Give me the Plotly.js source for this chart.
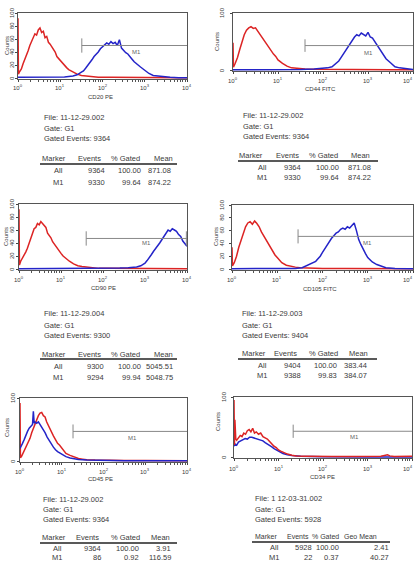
<!DOCTYPE html>
<html><head><meta charset="utf-8">
<script src="https://cdn.plot.ly/plotly-3.0.1.min.js"></script>
<style>html,body{margin:0;padding:0;background:#fff}#chart{width:415px;height:566px}</style>
</head><body><div id="chart"></div>
<script>
// ---------- DATA (x in log10 decades of fluorescence, y in counts) ----------
const axisTitles = ['CD20 PE','CD44 FITC','CD90 PE','CD105 FITC','CD45 PE','CD34 PE'];
const xTickVals = [1,10,100,1000,10000];
const xTickText = ['10<sup>0</sup>','10<sup>1</sup>','10<sup>2</sup>','10<sup>3</sup>','10<sup>4</sup>'];
const yTicksFull = [0,20,40,60,80,100];
const yTicksShort = [0,100];

const p1RedX = [0,0.01,0.04,0.08,0.12,0.16,0.2,0.24,0.28,0.32,0.36,0.4,0.44,0.48,0.52,0.56,0.6,0.64,0.68,0.72,0.76,0.8,0.84,0.88,0.92,0.96,1.0,1.05,1.1,1.15,1.2,1.3,1.4,1.5,1.6,1.7,1.9,2.2,2.6,3.0,3.4,3.8,4.0];
const p1RedY = [92,6,10,14,22,28,36,42,50,56,60,68,66,74,77,70,72,62,64,55,52,48,42,40,33,30,26,22,20,16,13,9,6,4,3,2,1,1,0.6,0.6,0.5,0.5,0.5];
const p1BlueX = [0,0.3,0.6,0.9,1.1,1.3,1.4,1.5,1.55,1.6,1.65,1.7,1.75,1.8,1.85,1.9,1.95,2.0,2.05,2.1,2.15,2.2,2.25,2.3,2.35,2.4,2.45,2.5,2.55,2.6,2.65,2.7,2.75,2.8,2.85,2.9,3.0,3.1,3.2,3.3,3.4,3.6,3.8,4.0];
const p1BlueY = [1,1,0.8,1,1.5,3,5,9,11,15,19,24,28,33,36,40,45,48,50,54,52,56,53,55,50,59,46,42,39,37,32,29,25,22,19,17,12,7,4,3,2,1,0.5,0.3];

const p2RedX = [0,0.01,0.05,0.1,0.15,0.2,0.25,0.3,0.35,0.4,0.45,0.5,0.55,0.6,0.65,0.7,0.75,0.8,0.85,0.9,0.95,1.0,1.1,1.2,1.3,1.4,1.6,1.8,2.2,2.6,3.0,3.5,4.0];
const p2RedY = [48,5,12,22,36,50,62,70,74,76,73,74,68,62,56,50,44,40,34,28,24,18,12,7,4,3,2,1.5,1,1,0.7,0.5,0.5];
const p2BlueX = [0,0.5,1.0,1.5,1.8,2.0,2.1,2.2,2.25,2.3,2.35,2.4,2.45,2.5,2.55,2.6,2.65,2.7,2.75,2.8,2.85,2.9,2.95,3.0,3.05,3.1,3.15,3.2,3.25,3.3,3.35,3.4,3.5,3.6,3.7,3.8,3.9,4.0];
const p2BlueY = [0.5,0.5,0.5,1,2,3,4,6,9,12,16,22,28,34,42,48,54,58,62,60,65,63,60,66,58,56,50,44,38,30,25,20,13,6,4,3,2,1];

const p3RedX = [0,0.01,0.04,0.08,0.12,0.16,0.2,0.24,0.28,0.32,0.36,0.4,0.44,0.48,0.52,0.56,0.6,0.64,0.68,0.72,0.76,0.8,0.84,0.88,0.92,0.96,1.0,1.05,1.1,1.15,1.2,1.3,1.4,1.5,1.6,1.7,1.9,2.2,2.6,3.0,3.5,4.0];
const p3RedY = [92,6,12,16,22,26,32,40,48,56,62,64,70,68,73,70,66,64,55,52,48,42,38,36,30,28,24,20,17,14,12,8,5,4,3,2,1,1,0.7,0.6,0.5,0.5];
const p3BlueX = [0,0.5,1.0,1.5,2.0,2.4,2.6,2.8,2.9,2.95,3.0,3.05,3.1,3.15,3.2,3.25,3.3,3.35,3.4,3.45,3.5,3.55,3.6,3.65,3.7,3.75,3.8,3.85,3.9,3.95,4.0];
const p3BlueY = [0.5,0.5,0.5,0.8,1,1.5,2,3,5,7,9,13,17,22,27,31,36,40,45,50,56,60,58,62,60,58,53,50,43,38,35];

const p4RedX = [0,0.01,0.05,0.1,0.15,0.2,0.25,0.3,0.35,0.4,0.45,0.5,0.55,0.6,0.65,0.7,0.75,0.8,0.85,0.9,0.95,1.0,1.05,1.1,1.2,1.3,1.4,1.5,1.7,2.0,2.5,3.0,3.5,4.0];
const p4RedY = [34,5,10,20,34,46,56,66,72,74,70,75,71,66,58,52,44,40,34,28,22,18,14,10,6,4,3,2,1.5,1,0.8,0.6,0.5,0.5];
const p4BlueX = [0,0.5,1.0,1.4,1.55,1.65,1.75,1.85,1.9,1.95,2.0,2.05,2.1,2.15,2.2,2.25,2.3,2.35,2.4,2.45,2.5,2.55,2.6,2.65,2.7,2.75,2.8,2.85,2.9,2.95,3.0,3.1,3.2,3.3,3.4,3.6,3.8,4.0];
const p4BlueY = [0.5,0.5,0.5,1,2,5,8,12,16,20,26,32,36,42,48,52,56,58,62,64,62,66,64,68,72,60,46,38,30,24,18,11,7,4,2,1,0.5,0.3];

const p5RedX = [0,0.01,0.04,0.08,0.12,0.16,0.2,0.24,0.28,0.32,0.36,0.4,0.44,0.48,0.52,0.56,0.6,0.64,0.68,0.72,0.76,0.8,0.85,0.9,0.95,1.0,1.05,1.1,1.2,1.3,1.4,1.5,1.6,1.8,2.0,2.5,3.0,3.5,4.0];
const p5RedY = [92,5,8,14,18,24,30,36,45,52,60,66,72,76,77,72,70,62,56,52,46,40,34,28,25,20,16,12,9,6,4,3,2,1.5,1,0.8,0.8,0.6,0.5];
const p5BlueX = [0,0.02,0.06,0.1,0.14,0.18,0.22,0.26,0.3,0.32,0.34,0.36,0.4,0.44,0.48,0.52,0.56,0.6,0.65,0.7,0.75,0.8,0.85,0.9,1.0,1.1,1.2,1.3,1.4,1.6,1.8,2.0,2.5,3.0,3.5,4.0];
const p5BlueY = [20,22,28,34,42,47,52,55,58,79,60,62,60,62,58,55,50,45,38,32,27,22,18,15,11,7,5,3.5,2.5,1.5,1,0.5,0.3,0.3,0.3,0.3];

const p6RedX = [0,0.01,0.02,0.04,0.06,0.1,0.14,0.18,0.22,0.26,0.3,0.34,0.38,0.42,0.46,0.5,0.55,0.6,0.65,0.7,0.75,0.8,0.85,0.9,0.95,1.0,1.05,1.1,1.2,1.3,1.4,1.6,1.8,2.2,2.6,3.0,3.3,3.45,3.5,3.6,3.8,4.0];
const p6RedY = [95,20,62,30,28,32,36,34,40,38,44,46,42,48,40,42,38,40,34,32,30,26,22,18,16,12,10,8,5,3,2,1.5,1,0.8,0.8,1,1.5,4,2,1,0.8,1.5];
const p6BlueX = [0,0.02,0.06,0.1,0.15,0.2,0.25,0.3,0.35,0.4,0.45,0.5,0.55,0.6,0.65,0.7,0.75,0.8,0.85,0.9,0.95,1.0,1.1,1.2,1.3,1.5,1.7,2.0,3.0,4.0];
const p6BlueY = [18,22,20,25,27,29,31,30,33,33,32,31,30,29,27,24,22,19,17,14,12,10,6,4,2.5,1.5,1,0.5,0.3,0.3];

// M1 marker: start (log10), level (counts), label position
const m1Start = [1.51,1.6,1.6,1.46,1.27,1.33];
const m1Level = [50,43,47,51,47,43];
const m1LabelX = [2.81,3.0,3.04,3.0,2.7,2.7];
const m1LabelY = [40,30,40,41,36,33];

// Stats text
const fileNames = ['File: 11-12-29.002','File: 11-12-29.002','File: 11-12-29.004','File: 11-12-29.003','File: 11-12-29.002','File: 1 12-03-31.002'];
const gateNames = ['Gate: G1','Gate: G1','Gate: G1','Gate: G1','Gate: G1','Gate: G1'];
const gatedEvents = ['9364','9364','9300','9404','9364','5928'];
const statHeaders = [
  ['Marker','Events','% Gated','Mean'],['Marker','Events','% Gated','Mean'],['Marker','Events','% Gated','Mean'],
  ['Marker','Events','% Gated','Mean'],['Marker','Events','% Gated','Mean'],['Marker','Events','% Gated','Geo Mean']];
const statRowsAll = [
  ['All','9364','100.00','871.08'],['All','9364','100.00','871.08'],['All','9300','100.00','5045.51'],
  ['All','9404','100.00','383.44'],['All','9364','100.00','3.91'],['All','5928','100.00','2.41']];
const statRowsM1 = [
  ['M1','9330','99.64','874.22'],['M1','9330','99.64','874.22'],['M1','9294','99.94','5048.75'],
  ['M1','9388','99.83','384.07'],['M1','86','0.92','116.59'],['M1','22','0.37','40.27']];

// ---------- LAYOUT GEOMETRY (pixels) ----------
const W = 415, H = 566;
const panels = [
  {x0:18,x1:187,y0:13,y1:79, yt:yTicksFull, xly:87, ylx:12, tx:100,ty:97, cx:7,cy:46, rightTick:false, blueFirst:false, edge:false},
  {x0:233,x1:413,y0:13,y1:71, yt:yTicksShort, xly:80, ylx:222, tx:320,ty:89, cx:217,cy:42, rightTick:false, blueFirst:false, edge:true},
  {x0:19,x1:187,y0:204,y1:270, yt:yTicksFull, xly:279, ylx:12, tx:103,ty:288, cx:6,cy:237, rightTick:true, blueFirst:false, edge:false},
  {x0:232,x1:413,y0:205,y1:270, yt:yTicksFull, xly:279, ylx:222, tx:320,ty:289, cx:216,cy:237, rightTick:false, blueFirst:false, edge:true},
  {x0:20,x1:187,y0:398,y1:462, yt:yTicksShort, xly:471, ylx:13, tx:100,ty:479, cx:7,cy:428, rightTick:false, blueFirst:false, edge:false},
  {x0:234,x1:412,y0:397,y1:458, yt:yTicksShort, xly:468, ylx:224, tx:322,ty:477, cx:218,cy:422, rightTick:false, blueFirst:true, edge:true}
];
const blocks = [
  {tx:43, ly:[117,128,139], hy:158, hl:[41,77,110,153], ry:164, rx0:40, rx1:177, rows:[171,182], cr:[64,106,142,172], hs:7.5},
  {tx:242, ly:[115,126,137], hy:156, hl:[238,275,308,350], ry:161, rx0:238, rx1:378, rows:[167,177], cr:[268,302,340,372], hs:7.5},
  {tx:43, ly:[314,325,335], hy:354, hl:[41,77,110,153], ry:359, rx0:40, rx1:177, rows:[366,377], cr:[64,105,142,174], hs:7.5},
  {tx:241, ly:[314,325,335], hy:353, hl:[241,273,308,348], ry:359, rx0:238, rx1:377, rows:[365,376], cr:[268,302,338,368], hs:7.5},
  {tx:42, ly:[499,509,519], hy:537, hl:[41,75,110,150], ry:543, rx0:40, rx1:177, rows:[548,557], cr:[63,102,140,172], hs:7.5},
  {tx:254, ly:[498,509,519], hy:536, hl:[254,286,311,343], ry:542, rx0:252, rx1:390, rows:[547,557], cr:[280,313,340,390], hs:7}
];

const curves = [
  [p1RedX,p1RedY,p1BlueX,p1BlueY],[p2RedX,p2RedY,p2BlueX,p2BlueY],[p3RedX,p3RedY,p3BlueX,p3BlueY],
  [p4RedX,p4RedY,p4BlueX,p4BlueY],[p5RedX,p5RedY,p5BlueX,p5BlueY],[p6RedX,p6RedY,p6BlueX,p6BlueY]];

const RED = '#dc2424', BLUE = '#2424c8', TXT = '#3a3a3a';
const FONT = 'Liberation Sans, Arial, sans-serif';
const minorVals = [];
[1,10,100,1000].forEach(d => { for (let m = 2; m <= 9; m++) minorVals.push(d*m); });

const layout = {
  width: W, height: H, margin: {l:0,r:0,t:0,b:0},
  paper_bgcolor: '#fff', plot_bgcolor: '#fff', showlegend: false,
  font: {family: FONT, color: TXT, size: 7},
  annotations: [], shapes: []
};
const data = [];
const px = v => v / W, py = v => 1 - v / H;
function txt(text, x, y, anchor, size, extra) {
  layout.annotations.push(Object.assign({text, x: px(x), y: py(y), xref:'paper', yref:'paper',
    xanchor: anchor, yanchor:'middle', showarrow:false, borderpad:0,
    font:{size, color:TXT, family:FONT}}, extra || {}));
}

panels.forEach((p, i) => {
  const k = i + 1, sfx = k === 1 ? '' : String(k);
  const xid = 'x' + sfx, yid = 'y' + sfx;
  layout['xaxis' + sfx] = {
    domain: [px(p.x0), px(p.x1)], anchor: yid, type: 'log', range: [0, 4],
    tickmode: 'array', tickvals: xTickVals, showticklabels: false,
    ticks: 'outside', ticklen: 2, tickcolor: '#444', tickwidth: 1,
    showline: true, mirror: true, linecolor: '#555', linewidth: 1,
    showgrid: false, zeroline: false, fixedrange: true,
    minor: {tickmode: 'array', tickvals: minorVals, ticks: 'outside', ticklen: 1.5, tickcolor: '#555', showgrid: false}
  };
  layout['yaxis' + sfx] = {
    domain: [py(p.y1), py(p.y0)], anchor: xid, range: [-1.5, 100],
    tickmode: 'array', tickvals: p.yt, showticklabels: false,
    ticks: 'outside', ticklen: 2, tickcolor: '#444',
    showline: true, mirror: true, linecolor: '#555', linewidth: 1,
    showgrid: false, zeroline: false, fixedrange: true
  };
  // tick labels as text anchored to the axes' own scales
  xTickVals.forEach((v, j) => {
    const last = p.edge && j === xTickVals.length - 1;
    layout.annotations.push({text: xTickText[j], xref: last ? 'paper' : xid, yref: 'paper',
      x: last ? px(414) : Math.log10(v), y: py(p.xly),
      xanchor: last ? 'right' : 'center', yanchor: 'middle', showarrow: false, borderpad: 0,
      font: {size: 6, color: TXT, family: FONT}});
  });
  p.yt.forEach(v => {
    layout.annotations.push({text: String(v), xref: 'paper', yref: yid, x: px(p.ylx), y: v,
      xanchor: 'center', yanchor: 'middle', showarrow: false, borderpad: 0, textangle: -90,
      font: {size: 6, color: TXT, family: FONT}});
  });

  const [rx, ry, bx, by] = curves[i];
  const red = {x: rx.map(v => Math.pow(10, v)), y: ry, xaxis: xid, yaxis: yid, mode: 'lines',
    line: {color: RED, width: 1.5}, hoverinfo: 'skip'};
  const blue = {x: bx.map(v => Math.pow(10, v)), y: by, xaxis: xid, yaxis: yid, mode: 'lines',
    line: {color: BLUE, width: 1.5}, hoverinfo: 'skip'};
  if (p.blueFirst) { data.push(blue, red); } else { data.push(red, blue); }

  // M1 marker
  const s = Math.pow(10, m1Start[i]), lv = m1Level[i];
  layout.shapes.push({type:'line', xref:xid, yref:yid, x0:s, x1:10000, y0:lv, y1:lv, line:{color:'#888', width:1}});
  layout.shapes.push({type:'line', xref:xid, yref:yid, x0:s, x1:s, y0:lv-11, y1:lv+11, line:{color:'#888', width:1}});
  if (p.rightTick) {
    const e = Math.pow(10, 3.985);
    layout.shapes.push({type:'line', xref:xid, yref:yid, x0:e, x1:e, y0:lv-11, y1:lv+11, line:{color:'#888', width:1}});
  }
  layout.annotations.push({text:'M1', xref:xid, yref:yid, x:m1LabelX[i], y:m1LabelY[i], showarrow:false,
    font:{size:6, color:'#666', family:FONT}, borderpad:0});

  // axis titles
  txt(axisTitles[i], p.tx, p.ty, 'center', 6);
  txt('Counts', p.cx, p.cy, 'center', 6, {textangle: -90});
});

blocks.forEach((b, i) => {
  txt(fileNames[i], b.tx, b.ly[0], 'left', 7.5);
  txt(gateNames[i], b.tx, b.ly[1], 'left', 7.5);
  txt('Gated Events: ' + gatedEvents[i], b.tx, b.ly[2], 'left', 7.5);
  statHeaders[i].forEach((h, j) => txt(h, b.hl[j], b.hy, 'left', b.hs));
  layout.shapes.push({type:'line', xref:'paper', yref:'paper', x0:px(b.rx0), x1:px(b.rx1), y0:py(b.ry), y1:py(b.ry),
    line:{color:'#222', width:1.5}});
  [statRowsAll[i], statRowsM1[i]].forEach((row, r) => {
    row.forEach((c, j) => txt(c, b.cr[j], b.rows[r], 'right', 7.5));
  });
});

Plotly.newPlot('chart', data, layout, {staticPlot: true, displayModeBar: false});
</script></body></html>
